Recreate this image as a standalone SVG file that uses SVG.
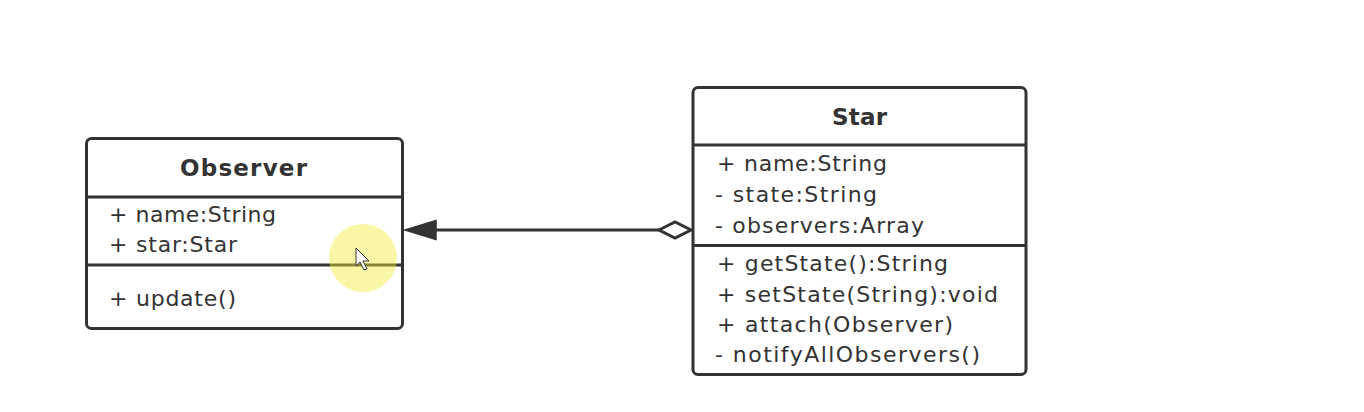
<svg xmlns="http://www.w3.org/2000/svg" width="1364" height="412" viewBox="0 0 1364 412">
<defs>
<style>
.box{fill:#fff;stroke:#333;stroke-width:3}
.sep{stroke:#333;stroke-width:3}
.title{font-family:"DejaVu Sans",sans-serif;font-weight:bold;font-size:23px;fill:#333}
.item{font-family:"DejaVu Sans",sans-serif;font-size:22px;fill:#333}
.conn{stroke:#333;stroke-width:3;fill:none}
</style>
</defs>
<rect width="1364" height="412" fill="#fff"/>
<g id="connectors">
<line class="conn" x1="432" y1="230" x2="660" y2="230"/>
<polygon points="405,230 436,220.5 436,239.5" fill="#333" stroke="#333" stroke-width="1.5"/>
<polygon points="659,230 675,222 691,230 675,238" fill="#fff" stroke="#333" stroke-width="3"/>
</g>
<g id="observer">
<rect class="box" x="86.5" y="138.5" width="316" height="190" rx="5"/>
<line class="sep" x1="86.5" y1="197" x2="402.5" y2="197"/>
<line class="sep" x1="86.5" y1="265" x2="402.5" y2="265"/>
<text class="title" x="180" y="176" textLength="127" lengthAdjust="spacing">Observer</text>
<text class="item" x="109" y="222" textLength="167" lengthAdjust="spacing">+ name:String</text>
<text class="item" x="109" y="252" textLength="128" lengthAdjust="spacing">+ star:Star</text>
<text class="item" x="109" y="306" textLength="127" lengthAdjust="spacing">+ update()</text>
</g>
<g id="star">
<rect class="box" x="693" y="87.5" width="333" height="287" rx="5"/>
<line class="sep" x1="693" y1="145" x2="1026" y2="145"/>
<line class="sep" x1="693" y1="245.5" x2="1026" y2="245.5"/>
<text class="title" x="832" y="125" textLength="55" lengthAdjust="spacing">Star</text>
<text class="item" x="717" y="171" textLength="170" lengthAdjust="spacing">+ name:String</text>
<text class="item" x="715" y="202" textLength="162" lengthAdjust="spacing">- state:String</text>
<text class="item" x="715" y="233" textLength="209" lengthAdjust="spacing">- observers:Array</text>
<text class="item" x="717" y="271" textLength="231" lengthAdjust="spacing">+ getState():String</text>
<text class="item" x="717" y="302" textLength="281" lengthAdjust="spacing">+ setState(String):void</text>
<text class="item" x="717" y="332" textLength="236" lengthAdjust="spacing">+ attach(Observer)</text>
<text class="item" x="715" y="362" textLength="265" lengthAdjust="spacing">- notifyAllObservers()</text>
</g>
<g id="highlight">
<circle cx="363" cy="258" r="34" fill="#f2ea3a" fill-opacity="0.45"/>
<polygon points="356,248 356,266 360,262 364,270 367,269 363,261 369,261" fill="#fff" stroke="#333" stroke-width="1"/>
</g>
</svg>
